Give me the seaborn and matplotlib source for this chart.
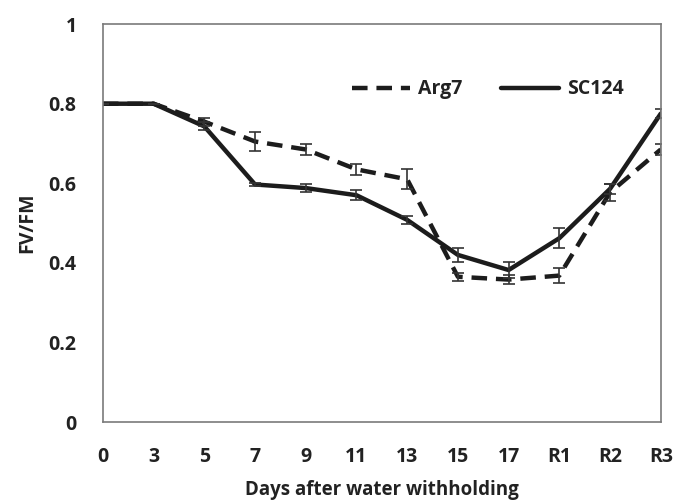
import numpy as np
import pandas as pd
import matplotlib
matplotlib.use("Agg")
import matplotlib.pyplot as plt
import seaborn as sns

# Chlorophyll fluorescence (FV/FM) after water withholding
days = ["0", "3", "5", "7", "9", "11", "13", "15", "17", "R1", "R2", "R3"]
arg7 = [0.80, 0.80, 0.755, 0.705, 0.685, 0.635, 0.610, 0.365, 0.358, 0.368, 0.577, 0.685]
arg7_err = [0.0, 0.0, 0.010, 0.025, 0.015, 0.014, 0.025, 0.010, 0.012, 0.018, 0.022, 0.015]
sc124 = [0.80, 0.80, 0.743, 0.597, 0.588, 0.570, 0.508, 0.420, 0.382, 0.462, 0.586, 0.775]
sc124_err = [0.0, 0.0, 0.010, 0.004, 0.010, 0.012, 0.010, 0.018, 0.020, 0.025, 0.012, 0.012]

sns.set_style("white")
plt.rcParams["font.family"] = ["Open Sans", "DejaVu Sans"]
plt.rcParams["font.weight"] = "bold"

df = pd.DataFrame({
    "x": list(range(len(days))) * 2,
    "value": arg7 + sc124,
    "err": arg7_err + sc124_err,
    "line": ["Arg7"] * len(days) + ["SC124"] * len(days),
})

fig = plt.figure(figsize=(6.77, 5.03), dpi=100)
ax = fig.add_axes([0.152, 0.161, 0.824, 0.791])

ink = "#1c1c1c"
sns.lineplot(data=df, x="x", y="value", style="line", dashes={"Arg7": (3.5, 2), "SC124": ""},
             color=ink, linewidth=3.2, ax=ax, legend=True)

for name, grp in df.groupby("line"):
    ax.errorbar(grp["x"], grp["value"], yerr=grp["err"], fmt="none",
                ecolor="#333333", elinewidth=1.2, capsize=4, capthick=1.2)

ax.set_xlim(0, len(days) - 1)
ax.set_ylim(0, 1)
ax.set_xticks(range(len(days)))
ax.set_xticklabels(days)
ax.set_yticks([0, 0.2, 0.4, 0.6, 0.8, 1])
ax.set_yticklabels(["0", "0.2", "0.4", "0.6", "0.8", "1"])

for s in ax.spines.values():
    s.set_color("#7a7a7a")
    s.set_linewidth(1.2)
ax.tick_params(axis="both", direction="out", length=6, width=1.0, color="#7a7a7a",
               labelsize=14, labelcolor="#222222")
ax.tick_params(axis="x", pad=12)
ax.tick_params(axis="y", pad=13)

ax.set_xlabel("Days after water withholding", fontsize=13.5, fontweight="bold", color="#222222", labelpad=9)
ax.set_ylabel("FV/FM", fontsize=14, fontweight="bold", color="#222222", labelpad=8)

leg = ax.legend(loc="upper right", bbox_to_anchor=(0.965, 0.905), ncol=2, frameon=False,
                handlelength=3.0, columnspacing=2.0, handletextpad=0.4,
                prop={"size": 14, "weight": "bold"})
for t in leg.get_texts():
    t.set_color("#222222")

fig.savefig("out.png", dpi=100)
